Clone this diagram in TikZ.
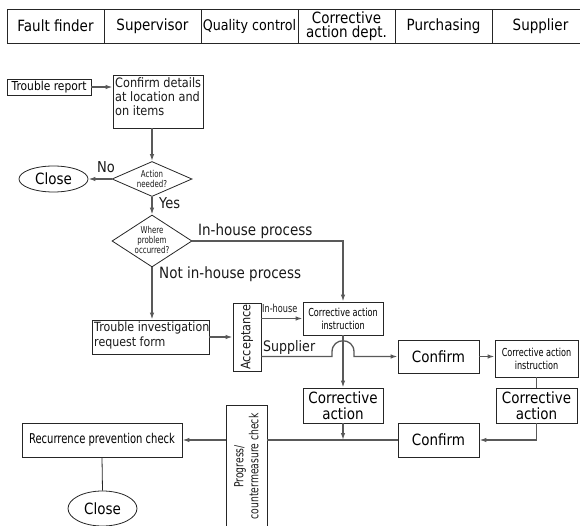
\documentclass[tikz,border=0pt]{standalone}
\usepackage{fontspec}
\setmainfont{DejaVu Sans}[FakeStretch=0.87]
\newfontfamily\condf{DejaVu Sans}[FakeStretch=0.74]
\usetikzlibrary{shapes.geometric,arrows.meta}
\newcommand{\fsz}[2]{\fontsize{#1}{#2}\selectfont}
\begin{document}
\begin{tikzpicture}[x=1pt,y=-1pt,
  box/.style={draw=black!85,line width=0.8pt,inner sep=0pt,align=center},
  hcell/.style={box,minimum width=97pt,minimum height=34pt,font=\fsz{15.5}{14}},
  conn/.style={draw=black!65,line width=1.3pt},
  arr/.style={conn,-{Latex[length=7pt,width=4.5pt]}},
  lbl/.style={inner sep=0pt,text=black!90},
  dia/.style={draw=black!85,line width=0.8pt,diamond,inner sep=0pt},
  ell/.style={draw=black!85,line width=0.8pt,ellipse,inner sep=0pt,font=\fsz{15.5}{16}}]
\useasboundingbox (0,0) rectangle (580,526);

% header
\node[hcell] (h1) at (55.5,26) {Fault finder};
\node[hcell] (h2) at (152.5,26) {Supervisor};
\node[hcell,font=\fsz{14.6}{14}] (h3) at (249.5,26) {Quality control};
\node[hcell] (h4) at (346.5,26) {Corrective\\action dept.};
\node[hcell] (h5) at (443.5,26) {Purchasing};
\node[hcell] (h6) at (540.5,26) {Supplier};

% boxes
\node[box,minimum width=84pt,minimum height=16pt,font=\fsz{12.3}{13}] (trep) at (49,87) {Trouble report};
\node[box,minimum width=90pt,minimum height=53pt] (confd) at (158,101.5) {};
\node[lbl,anchor=north west,align=left,font=\fsz{13}{14}] (confdt) at (115,77) {Confirm details\\at location and\\on items};
\node[dia,minimum width=80pt,minimum height=35pt] (d1) at (152,179) {};
\node[lbl,align=center,font=\condf\fsz{9.5}{9.5}] (d1t) at (152,179) {Action\\needed?};
\node[ell,minimum width=69pt,minimum height=26pt] (close1) at (53.5,179) {Close};
\node[dia,minimum width=80pt,minimum height=52pt] (d2) at (152,241) {};
\node[lbl,align=center,font=\condf\fsz{9.5}{10}] (d2t) at (152,239.5) {Where\\problem\\occurred?};
\node[box,minimum width=117pt,minimum height=34pt] (ti) at (150.5,337) {};
\node[lbl,anchor=north west,align=left,font=\fsz{12.7}{14.5}] (tit) at (94,322) {Trouble investigation\\request form};
\node[box,minimum width=28pt,minimum height=68pt] (acc) at (247,337) {};
\node[lbl,rotate=90,font=\fsz{13}{14}] (acct) at (acc) {Acceptance};
\node[box,minimum width=80pt,minimum height=33pt,font=\condf\fsz{11}{13}] (cai) at (343,318.5) {Corrective action\\instruction};
\node[box,minimum width=81pt,minimum height=33pt,font=\fsz{15.5}{16}] (conf1) at (438.5,356.5) {Confirm};
\node[box,minimum width=83pt,minimum height=37pt,font=\condf\fsz{11}{13}] (cai2) at (536.5,358.5) {Corrective action\\instruction};
\node[box,minimum width=80pt,minimum height=35pt,font=\fsz{15.5}{16}] (ca1) at (343,405.5) {Corrective\\action};
\node[box,minimum width=81pt,minimum height=35pt,font=\fsz{15.5}{16}] (ca2) at (536.5,405.5) {Corrective\\action};
\node[box,minimum width=81pt,minimum height=34pt,font=\fsz{15.5}{16}] (conf2) at (438.5,440) {Confirm};
\node[box,minimum width=41pt,minimum height=123pt] (prog) at (246.5,466.5) {};
\node[lbl,rotate=90,align=center,font=\condf\fsz{12.5}{15}] (progt) at (prog) {Progress/\\countermeasure check};
\node[box,minimum width=160pt,minimum height=34pt,font=\condf\fsz{13.5}{14}] (rec) at (102,440) {Recurrence prevention check};
\node[ell,minimum width=69pt,minimum height=35pt] (close2) at (102.5,508.5) {Close};

% labels
\node[lbl,font=\fsz{15}{16}] (no) at (106,167.5) {No};
\node[lbl,anchor=west,font=\fsz{15}{16}] (yes) at (159,203.5) {Yes};
\node[lbl,anchor=base west,font=\fsz{15.5}{16}] (inh) at (198,236) {In-house process};
\node[lbl,anchor=base west,font=\fsz{15.5}{16}] (notinh) at (159,279) {Not in-house process};
\node[lbl,anchor=base west,font=\condf\fsz{11}{12}] (inhs) at (262,312) {In-house};
\node[lbl,anchor=base west,font=\fsz{14.5}{15}] (supl) at (263,351) {Supplier};

% connectors
\draw[arr] (trep.east) -- (trep.east -| confd.west);
\draw[arr] (confd.south -| d1.north) -- (d1.north);
\draw[arr] (d1.west) -- (close1.east);
\draw[arr] (d1.south) -- (d2.north);
\draw[arr] (d2.east) -- (d2.east -| cai.north) -- (cai.north);
\draw[arr] (d2.south) -- (d2.south |- ti.north);
\draw[arr] (ti.east) -- (acc.west);
\draw[arr] (acc.east |- cai.west) -- (cai.west);
\draw[arr] (acc.east |- conf1.west) -- (332,356.5) -- (332,352)
   .. controls (332,337) and (354,337) .. (354,352) -- (354,356.5) -- (conf1.west);
\draw[arr] (cai.south) -- (ca1.north);
\draw[arr] (conf1.east) -- (conf1.east -| cai2.west);
\draw[conn] (cai2.south) -- (cai2.south |- ca2.north);
\draw[arr] (ca2.south) -- (ca2.south |- conf2.east) -- (conf2.east);
\draw[conn] (conf2.west) -- (conf2.west -| prog.east);
\draw[arr] (ca1.south) -- (ca1.south |- conf2.west);
\draw[arr] (prog.west |- rec.east) -- (rec.east);
\draw[box] (rec.south) -- (close2.north);
\end{tikzpicture}
\end{document}
